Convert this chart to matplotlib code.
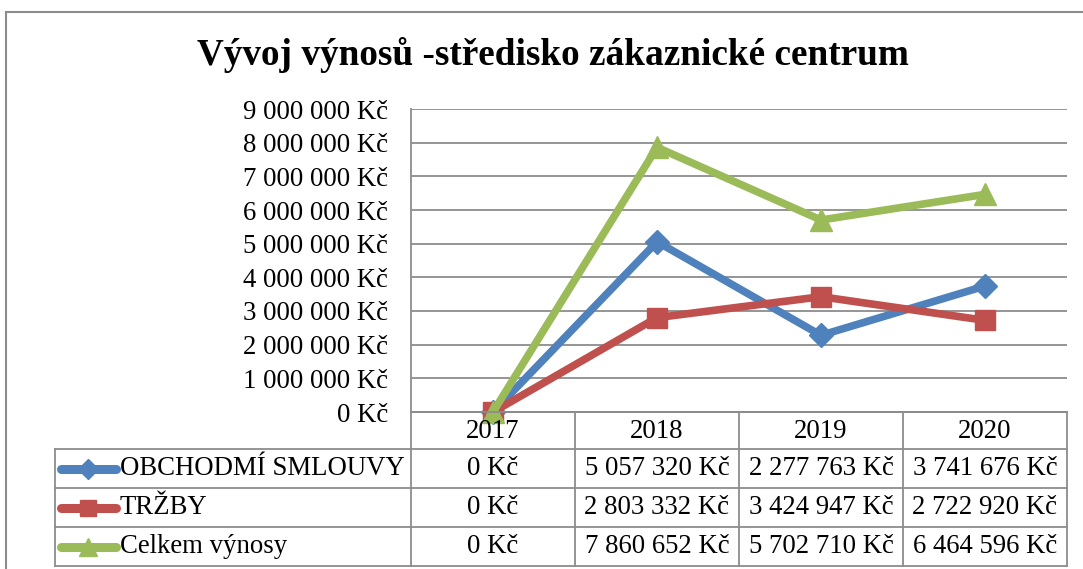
import matplotlib
matplotlib.use("Agg")
import matplotlib.pyplot as plt
from matplotlib.ticker import FuncFormatter, MultipleLocator
from matplotlib.transforms import blended_transform_factory
from matplotlib.lines import Line2D

years = ["2017", "2018", "2019", "2020"]
series_names = ["OBCHODMÍ SMLOUVY", "TRŽBY", "Celkem výnosy"]
obchodni = [0, 5057320, 2277763, 3741676]
trzby = [0, 2803332, 3424947, 2722920]
celkem = [0, 7860652, 5702710, 6464596]
series_values = [obchodni, trzby, celkem]
colors = ["#4F81BD", "#C0504D", "#9BBB59"]
markers = ["D", "s", "^"]
msizes = [12, 14, 16]
title = "Vývoj výnosů -středisko zákaznické centrum"

W, H = 1083, 569
FONT = "Liberation Serif"
FS = 19.3
plt.rcParams["font.family"] = [FONT, "DejaVu Serif"]


def kc(v, pos=None):
    s = f"{int(round(v)):,}".replace(",", " ")
    return s + " Kč"


fig = plt.figure(figsize=(W / 100, H / 100), dpi=100)


def fx(px):
    return px / W


def fy(py):
    return 1 - py / H


# outer chart border
fig.add_artist(Line2D([fx(6), fx(1083)], [fy(12), fy(12)], color="#8c8c8c", lw=1.5))
fig.add_artist(Line2D([fx(6), fx(6)], [fy(12), fy(569)], color="#8c8c8c", lw=1.5))

left, right, top, bottom = 411, 1067, 109, 412
ax = fig.add_axes([fx(left), fy(bottom), fx(right) - fx(left), fy(top) - fy(bottom)])
x = list(range(len(years)))
for vals, c, m, ms, name in zip(series_values, colors, markers, msizes, series_names):
    ax.plot(x, vals, color=c, lw=5.5, marker=m, markersize=ms,
            markerfacecolor=c, markeredgecolor=c, solid_capstyle="round",
            solid_joinstyle="round", label=name, clip_on=False, zorder=3)

ax.set_xlim(-0.5, len(years) - 0.5)
ax.set_ylim(0, 9000000)
ax.yaxis.set_major_locator(MultipleLocator(1000000))
ax.yaxis.set_major_formatter(FuncFormatter(kc))
ax.grid(axis="y", color="#8c8c8c", lw=1.3)
ax.set_axisbelow(True)
ax.set_xticks([])
for s in ["top", "right"]:
    ax.spines[s].set_visible(False)
for s in ["left", "bottom"]:
    ax.spines[s].set_color("#8c8c8c")
    ax.spines[s].set_linewidth(1.3)
ax.tick_params(axis="y", length=0, pad=16.5, labelsize=FS)
for lab in ax.get_yticklabels():
    lab.set_fontfamily(FONT)

fig.text(fx(553), fy(55), title, ha="center", va="center", fontsize=26.8,
         fontweight="bold", family=FONT)

# data table
tr = blended_transform_factory(ax.transData, fig.transFigure)
grid_c = "#8c8c8c"
row_edges = [412, 449, 488, 527, 566]
col_edges = [i - 0.5 for i in range(len(years) + 1)]
for i, ry in enumerate(row_edges):
    fig.add_artist(Line2D([col_edges[0], col_edges[-1]], [fy(ry), fy(ry)],
                          transform=tr, color=grid_c, lw=1.3))
    if i >= 1:
        fig.add_artist(Line2D([fx(55), fx(left)], [fy(ry), fy(ry)], color=grid_c, lw=1.3))
for cx in col_edges:
    fig.add_artist(Line2D([cx, cx], [fy(row_edges[0]), fy(row_edges[-1])],
                          transform=tr, color=grid_c, lw=1.3))
fig.add_artist(Line2D([fx(55), fx(55)], [fy(row_edges[1]), fy(row_edges[-1])], color=grid_c, lw=1.3))

for i, yr in enumerate(years):
    fig.text(i, fy((row_edges[0] + row_edges[1]) / 2 + 1), yr, transform=tr,
             ha="center", va="center", fontsize=FS, family=FONT)
for r, (name, vals, c, m, ms) in enumerate(zip(series_names, series_values, colors, markers, msizes)):
    yc = fy((row_edges[r + 1] + row_edges[r + 2]) / 2)
    fig.add_artist(Line2D([fx(61), fx(116)], [yc, yc], color=c, lw=6.5, solid_capstyle="round"))
    fig.add_artist(Line2D([fx(88)], [yc], color=c, marker=m, markersize=ms * 0.85, lw=0,
                          markerfacecolor=c, markeredgecolor=c))
    fig.text(fx(120), yc, name, ha="left", va="center", fontsize=FS, family=FONT)
    for i, v in enumerate(vals):
        fig.text(i, yc, kc(v), transform=tr, ha="center", va="center", fontsize=FS, family=FONT)

fig.savefig("out.png", dpi=100)
